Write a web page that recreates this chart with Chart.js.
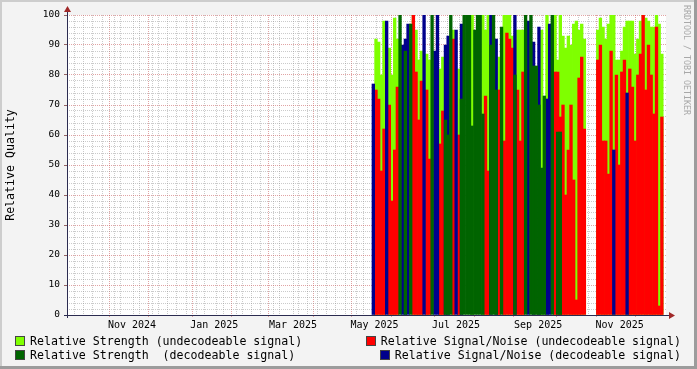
<!DOCTYPE html>
<html>
<head>
<meta charset="utf-8">
<script src="https://cdn.jsdelivr.net/npm/chart.js@4.4.0/dist/chart.umd.min.js"></script>
<style>
  body { margin: 0; background: #f3f3f3; }
  #box { position: relative; width: 697px; height: 369px; overflow: hidden; font-family: "DejaVu Sans Mono", monospace; }
  canvas { position: absolute; left: 0; top: 0; }
  .shade { position: absolute; }
  #legend { position: absolute; left: 15px; top: 334px; width: 666px; font-size: 11.6px; line-height: 14px; white-space: pre; color: #000; }
  .row { display: flex; justify-content: space-between; height: 14px; }
  .item i { display: inline-block; width: 8px; height: 8px; border: 1px solid #444; margin-right: 5px; vertical-align: -1px; }
  #mark { position: absolute; left: 681px; top: 5px; width: 11px; writing-mode: vertical-rl; font-size: 8.3px; line-height: 11px; color: #a8a8a8; }
</style>
</head>
<body>
<div id="box">
  <canvas id="chart" width="697" height="369"></canvas>
  <div class="shade" style="left:0;top:0;width:697px;height:2px;background:#cdcdcd"></div>
  <div class="shade" style="left:0;top:0;width:2px;height:369px;background:#cdcdcd"></div>
  <div class="shade" style="left:694px;top:0;width:3px;height:369px;background:#9c9c9c"></div>
  <div class="shade" style="left:0;top:366px;width:697px;height:3px;background:#9c9c9c"></div>
  <div id="legend"></div>
  <div id="mark">RRDTOOL / TOBI OETIKER</div>
</div>
<script>
// series names, legend order: row 1 left/right, row 2 left/right
const seriesNames = [
  "Relative Strength (undecodeable signal)",
  "Relative Signal/Noise (undecodeable signal)",
  "Relative Strength  (decodeable signal)",
  "Relative Signal/Noise (decodeable signal)"
];
const seriesColors = ["#7fff00", "#ff0000", "#006400", "#00008c"];
const drawOrder = [4, 3, 1, 2];   // dark green painted last, like the rrd graph

// x axis: days counted from 1 Oct 2024
const tickLabels = ["Nov 2024", "Jan 2025", "Mar 2025", "May 2025", "Jul 2025", "Sep 2025", "Nov 2025"];
const labelMonths = [[2024, 10], [2025, 0], [2025, 2], [2025, 4], [2025, 6], [2025, 8], [2025, 10]];
const xMax = 443;
const firstDay = 225.6;   // first bin (mid May 2025)
const binDays = 2;

// values per 2-day bin, null = no sample
const strengthUndec = [
  null, 92, 91, 80, 98, null, 89, 80, 99, 92,
  null, null, null, null, null, 100, 95, 85, 88, null,
  87, 85, null, null, null, 82, 86, null, null, null,
  95, null, 82, null, null, null, null, 100, null, null,
  null, 100, 95, 100, null, null, null, 86, null, 100,
  100, 100, 93, null, 95, 95, 95, null, null, null,
  null, null, null, 95, null, 100, null, null, 100, 85,
  100, 93, 89, 93, 90, 97, 98, 95, 97, 92,
  null, null, null, null, 95, 99, 96, 92, 97, 100,
  100, 85, 85, 88, 96, 98, 98, 98, 87, 92,
  98, 100, 99, 98, 96, 96, 100, 97, 87
];
const snrUndec = [
  null, 75, 72, 48, 62, null, 70, 38, 55, 76,
  null, null, null, null, null, 100, 81, 65, 78, null,
  75, 52, null, null, null, 57, 68, null, null, null,
  92, null, 60, null, null, null, null, null, null, null,
  null, null, 73, 48, null, null, null, 75, null, 58,
  94, 92, 89, null, 75, 58, 81, null, null, null,
  null, null, null, null, null, null, null, null, 81, 81,
  66, 70, 40, 55, 70, 45, 5, 79, 86, 62,
  null, null, null, null, 85, 90, 58, 58, 47, 88,
  null, 80, 50, 81, 85, null, 82, 76, 58, 80,
  87, 100, 75, 90, 80, 67, 96, 3, 66
];
const strengthDec = [
  null, null, null, null, null, null, null, null, null, null,
  100, null, 88, null, 97, null, null, null, null, null,
  null, null, 100, null, null, null, null, 65, 60, 100,
  null, null, null, 72, 100, 100, 100, 63, 95, 100,
  100, 67, null, null, 90, 100, 75, null, 96, null,
  null, null, null, 80, null, null, null, 100, null, 100,
  83, 83, 70, 49, 73, null, null, 100, null, 61,
  61, null, null, null, null, null, null, null, null, null,
  null, null, null, null, null, null, null, null, null, null,
  null, null, null, null, null, null, null, null, null, null,
  null, null, null, null, null, null, null, null, null
];
const snrDec = [
  77, null, null, null, null, 98, null, null, null, null,
  null, 90, 92, 97, null, null, null, null, null, 100,
  null, null, null, 88, 100, null, null, 90, 93, null,
  null, 95, null, 97, null, null, null, null, null, null,
  null, null, null, null, 100, null, 92, null, null, null,
  null, null, null, 100, null, null, null, null, 98, null,
  91, null, 96, null, null, 72, 97, null, null, null,
  null, null, null, null, null, null, null, null, null, null,
  null, null, null, null, null, null, null, null, null, null,
  55, null, null, null, null, 74, null, null, null, null,
  null, null, null, null, null, null, null, null, null
];

const base = Date.UTC(2024, 9, 1);
function dayOf(y, m, d) { return (Date.UTC(y, m, d) - base) / 864e5; }

function toPoints(arr) {
  return arr.map((v, i) => ({ x: firstDay + binDays * i + binDays / 2, y: v }));
}

/* ---------- x ticks: month grid, weekly grid, mid-month labels ---------- */
let xTicks = [];
for (let k = 0; k < 16; k++) {
  let d = dayOf(2024, 9 + k, 1);
  if (d <= xMax) xTicks.push({ value: d, kind: "month" });
}
for (let d = 6; d <= xMax; d += 7) {
  if (!xTicks.some(t => Math.abs(t.value - d) < 0.5)) xTicks.push({ value: d, kind: "week" });
}
labelMonths.forEach((m, i) => {
  let mid = (dayOf(m[0], m[1], 1) + dayOf(m[0], m[1] + 1, 1)) / 2;
  xTicks.push({ value: mid + 0.001, kind: "label", text: tickLabels[i] });
});
xTicks.sort((a, b) => a.value - b.value);

let yTicks = [];
for (let v = 0; v <= 100; v += 2) yTicks.push({ value: v });

const MAJOR = "rgba(200,90,90,0.55)";
const MINOR = "rgba(140,140,140,0.45)";

/* ---------- legend ---------- */
const legend = document.getElementById("legend");
[[0, 1], [2, 3]].forEach(pair => {
  let row = document.createElement("div");
  row.className = "row";
  pair.forEach(i => {
    row.innerHTML += `<span class="item"><i style="background:${seriesColors[i]}"></i>${seriesNames[i]}</span>`;
  });
  legend.appendChild(row);
});

/* ---------- canvas background + axes ---------- */
const frame = {
  id: "frame",
  beforeDraw(chart) {
    const { ctx, chartArea: a } = chart;
    ctx.save();
    ctx.fillStyle = "#ffffff";
    ctx.fillRect(a.left, a.top, a.right - a.left, a.bottom - a.top);
    ctx.restore();
  },
  afterDraw(chart) {
    const { ctx, chartArea: a } = chart;
    ctx.save();
    ctx.strokeStyle = "#2b2b50";
    ctx.lineWidth = 1;
    ctx.beginPath();
    ctx.moveTo(a.left - 3, a.bottom + 0.5);
    ctx.lineTo(a.right + 4, a.bottom + 0.5);
    ctx.moveTo(a.left + 0.5, a.bottom + 3);
    ctx.lineTo(a.left + 0.5, a.top - 4);
    ctx.stroke();
    ctx.fillStyle = "#a02828";
    ctx.beginPath();
    ctx.moveTo(a.right + 3, a.bottom - 3);
    ctx.lineTo(a.right + 9, a.bottom + 0.5);
    ctx.lineTo(a.right + 3, a.bottom + 4);
    ctx.closePath();
    ctx.fill();
    ctx.beginPath();
    ctx.moveTo(a.left - 3, a.top - 3);
    ctx.lineTo(a.left + 0.5, a.top - 9);
    ctx.lineTo(a.left + 4, a.top - 3);
    ctx.closePath();
    ctx.fill();
    ctx.restore();
  }
};

Chart.defaults.font.family = "'DejaVu Sans Mono', monospace";
Chart.defaults.color = "#000";

const datasets = [strengthUndec, snrUndec, strengthDec, snrDec].map((arr, i) => ({
  label: seriesNames[i],
  data: toPoints(arr),
  backgroundColor: seriesColors[i],
  borderWidth: 0,
  grouped: false,
  order: drawOrder[i]
}));

const chart = new Chart(document.getElementById("chart"), {
  type: "bar",
  data: { datasets },
  options: {
    responsive: false,
    animation: false,
    layout: { padding: { left: 0, right: 31, top: 15, bottom: 34 } },
    plugins: { legend: { display: false }, tooltip: { enabled: false } },
    scales: {
      x: {
        type: "linear",
        min: 0,
        max: xMax,
        z: 1,
        afterBuildTicks: s => { s.ticks = xTicks.map(t => ({ ...t })); },
        afterFit: s => { s.height = 20; },
        ticks: {
          autoSkip: false,
          maxRotation: 0,
          padding: 2,
          font: { size: 10 },
          callback: (v, i, ticks) => ticks[i].text || ""
        },
        grid: {
          tickLength: 2,
          color: c => c.tick && c.tick.kind === "month" ? MAJOR : c.tick && c.tick.kind === "week" ? MINOR : "rgba(0,0,0,0)",
          tickColor: c => c.tick && c.tick.kind === "month" ? MAJOR : "rgba(0,0,0,0)"
        },
        border: { display: false, dash: [1, 1] }
      },
      y: {
        min: 0,
        max: 100,
        z: 1,
        afterBuildTicks: s => { s.ticks = yTicks.map(t => ({ ...t })); },
        afterFit: s => { s.width = 67; },
        title: {
          display: true,
          text: "Relative Quality",
          font: { size: 11.6 },
          padding: { top: 4, bottom: 0 }
        },
        ticks: {
          autoSkip: false,
          padding: 4,
          font: { size: 9.5 },
          callback: v => v % 10 === 0 ? v : ""
        },
        grid: {
          tickLength: 3,
          color: c => c.tick && c.tick.value % 10 === 0 ? MAJOR : MINOR,
          tickColor: c => c.tick && c.tick.value % 10 === 0 ? "rgba(110,40,40,0.7)" : "rgba(0,0,0,0)"
        },
        border: { display: false, dash: [1, 1] }
      }
    }
  },
  plugins: [frame]
});

// bar width = one bin, measured on the x scale (the tick list would shrink the automatic width)
const xs = chart.scales.x;
const binPx = xs.getPixelForValue(binDays) - xs.getPixelForValue(0);
chart.data.datasets.forEach(d => { d.barThickness = binPx; });
chart.update();
</script>
</body>
</html>
